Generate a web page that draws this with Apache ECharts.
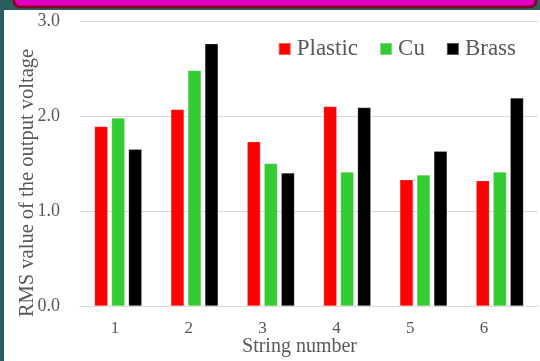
<!DOCTYPE html>
<html><head><meta charset="utf-8">
<script src="https://cdn.jsdelivr.net/npm/echarts@6/dist/echarts.min.js"></script>
<style>html,body{margin:0;padding:0;background:#2a5d5e;}#c{width:540px;height:361px;}</style>
</head><body><div id="c"></div>
<script>
const categories = ['1','2','3','4','5','6'];
const plastic = [1.89, 2.07, 1.73, 2.10, 1.33, 1.32];
const cu = [1.98, 2.48, 1.50, 1.41, 1.38, 1.41];
const brass = [1.65, 2.76, 1.40, 2.09, 1.63, 2.19];
const seriesNames = ['Plastic', 'Cu', 'Brass'];
const colors = ['#ff0000', '#33cc33', '#000000'];
const yTitle = 'RMS value of the output voltage';
const xTitle = 'String number';

const chart = echarts.init(document.getElementById('c'), null, {renderer: 'canvas'});
const font = '"Liberation Serif", "Times New Roman", serif';
const txt = '#595959';
const mk = (name, data, i) => ({
  name, type: 'bar', data, barWidth: 13.3, barGap: '28%',
  xAxisIndex: 0, yAxisIndex: 0,
  itemStyle: {color: colors[i], borderColor: 'rgba(255,255,255,0.35)', borderWidth: 0.6}
});
chart.setOption({
  animation: false,
  backgroundColor: 'transparent',
  graphic: [
    {type: 'rect', shape: {x: 0, y: 0, width: 540, height: 361}, style: {fill: '#2a5d5e'}, z: -10},
    {type: 'rect', shape: {x: 4, y: 10, width: 540, height: 355}, style: {fill: '#ffffff', stroke: null, lineWidth: 0}, z: -9},
    {type: 'rect', shape: {x: 14, y: -8, width: 522, height: 15, r: 6}, style: {fill: '#e000c0', stroke: '#8a0020', lineWidth: 2.5}, z: -8},
    {type: 'text', x: 28, y: 183, rotation: Math.PI / 2, style: {text: yTitle, font: '20.5px ' + font, fill: txt, textAlign: 'center', textVerticalAlign: 'middle'}}
  ],
  textStyle: {fontFamily: font},
  legend: {
    data: seriesNames, top: 32, right: 19, itemWidth: 12, itemHeight: 12, itemGap: 21,
    icon: 'rect',
    textStyle: {fontFamily: font, fontSize: 23, lineHeight: 24, color: txt, padding: [0,0,0,1]}
  },
  grid: [
    {show: false, borderWidth: 0, left: 80, right: 2, top: 21, bottom: 55, containLabel: false, outerBoundsMode: 'none'},
    {show: false, borderWidth: 0, left: 78, right: 19, top: 21, bottom: 55, containLabel: false, outerBoundsMode: 'none'}
  ],
  xAxis: [{
    type: 'category', data: categories, gridIndex: 0, position: 'bottom',
    axisLine: {show: true, lineStyle: {color: '#d9d9d9'}},
    axisTick: {show: false},
    axisLabel: {show: false},
    splitLine: {show: false},
    splitArea: {show: false}
  }, {
    type: 'category', data: categories, gridIndex: 1, position: 'bottom',
    name: xTitle, nameLocation: 'middle', nameGap: 31, nameMoveOverlap: false,
    nameTextStyle: {fontFamily: font, fontSize: 20, color: txt},
    axisLine: {show: false},
    axisTick: {show: false},
    axisLabel: {fontFamily: font, fontSize: 17, color: txt, margin: 14},
    splitLine: {show: false},
    splitArea: {show: false}
  }],
  yAxis: [{
    type: 'value', min: 0, max: 3, interval: 1, gridIndex: 0, position: 'left',
    axisLine: {show: false, lineStyle: {width: 0}}, axisTick: {show: false},
    axisLabel: {show: false},
    splitLine: {lineStyle: {color: '#d9d9d9', width: 1}},
    splitArea: {show: false}
  }, {
    type: 'value', min: 0, max: 3, interval: 1, gridIndex: 1, position: 'left',
    axisLine: {show: false, lineStyle: {width: 0}}, axisTick: {show: false},
    axisLabel: {fontFamily: font, fontSize: 18, color: txt, margin: 18, formatter: v => v.toFixed(1)},
    splitLine: {show: false},
    splitArea: {show: false}
  }],
  series: [mk('Plastic', plastic, 0), mk('Cu', cu, 1), mk('Brass', brass, 2)]
});
</script></body></html>
